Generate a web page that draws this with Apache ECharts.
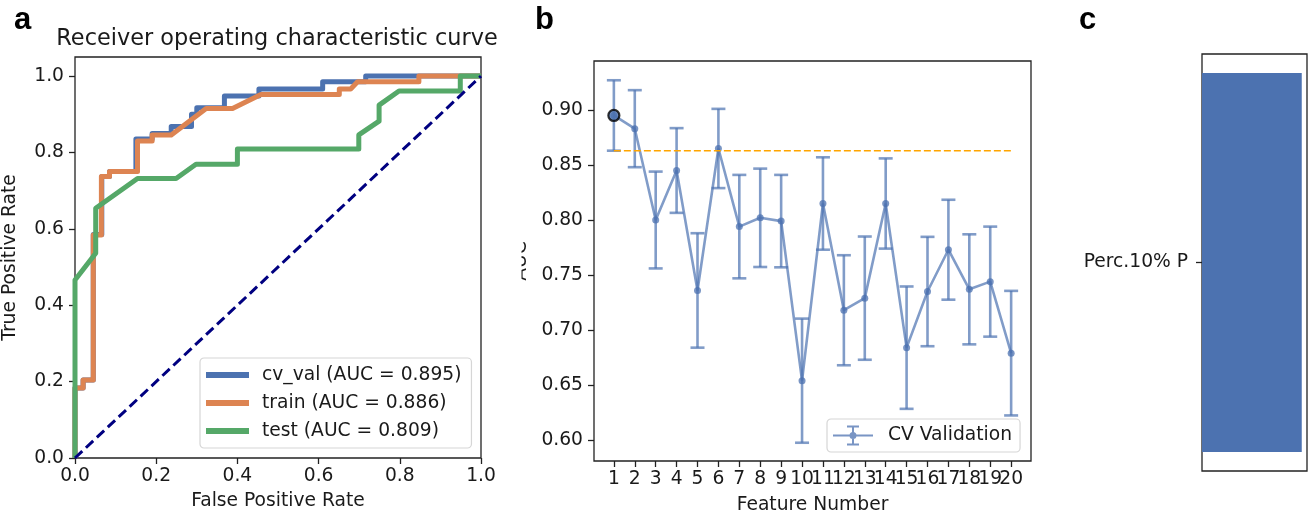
<!DOCTYPE html>
<html><head><meta charset="utf-8">
<script src="https://cdn.jsdelivr.net/npm/echarts@6/dist/echarts.min.js"></script>
<style>html,body{margin:0;padding:0;background:#fff}#c{width:1309px;height:520px}</style>
</head><body><div id="c"></div>
<script>
// ---------- Panel a: ROC curves ----------
const cvFpr    = [0, 0, 0.02, 0.02, 0.045, 0.045, 0.066, 0.066, 0.085, 0.085, 0.15, 0.15, 0.19, 0.19, 0.237, 0.237, 0.287, 0.287, 0.30, 0.30, 0.368, 0.368, 0.453, 0.453, 0.61, 0.61, 0.716, 0.716, 1];
const cvTpr    = [0, 0.183, 0.183, 0.204, 0.204, 0.585, 0.585, 0.737, 0.737, 0.75, 0.75, 0.835, 0.835, 0.85, 0.85, 0.868, 0.868, 0.90, 0.90, 0.917, 0.917, 0.948, 0.948, 0.966, 0.966, 0.985, 0.985, 1.0, 1.0];
const trainFpr = [0, 0, 0.02, 0.02, 0.045, 0.045, 0.065, 0.065, 0.085, 0.085, 0.154, 0.154, 0.19, 0.19, 0.237, 0.323, 0.388, 0.458, 0.651, 0.651, 0.679, 0.696, 0.847, 0.847, 1];
const trainTpr = [0, 0.183, 0.183, 0.204, 0.204, 0.584, 0.584, 0.737, 0.737, 0.75, 0.75, 0.83, 0.83, 0.846, 0.846, 0.915, 0.915, 0.952, 0.952, 0.966, 0.966, 0.985, 0.985, 1.0, 1.0];
const testFpr  = [0, 0, 0.051, 0.051, 0.154, 0.249, 0.298, 0.40, 0.40, 0.699, 0.699, 0.749, 0.749, 0.798, 0.949, 0.949, 1];
const testTpr  = [0, 0.466, 0.536, 0.654, 0.732, 0.732, 0.769, 0.769, 0.809, 0.809, 0.846, 0.882, 0.924, 0.961, 0.961, 1.0, 1.0];
const rocNames = ['cv_val', 'train', 'test'];
const rocAuc   = [0.895, 0.886, 0.809];
const chanceX  = [0, 1];
const chanceY  = [0, 1];
const rocTicks = [0, 0.2, 0.4, 0.6, 0.8, 1.0];

// ---------- Panel b: AUC vs feature number ----------
const featureNums = [1, 2, 3, 4, 5, 6, 7, 8, 9, 10, 11, 12, 13, 14, 15, 16, 17, 18, 19, 20];
const aucMean = [0.895, 0.883, 0.800, 0.845, 0.736, 0.865, 0.794, 0.802, 0.799, 0.654, 0.815, 0.718, 0.729, 0.815, 0.684, 0.735, 0.773, 0.737, 0.744, 0.679];
const aucErr  = [0.032, 0.035, 0.044, 0.0385, 0.052, 0.036, 0.047, 0.0447, 0.042, 0.0564, 0.042, 0.050, 0.056, 0.041, 0.0556, 0.0497, 0.0454, 0.050, 0.050, 0.0566];
const oneSeThreshold = 0.863;
const bestFeature = 1;
const aucTicks = [0.60, 0.65, 0.70, 0.75, 0.80, 0.85, 0.90];

// ---------- Panel c: single feature bar ----------
const featNames = ['Perc.10% P'];
const featValues = [1.0];

const FONT = '"DejaVu Sans", sans-serif';
const TXT = '#1a1a1a';
const FRAME = '#222';
const FS = 18.7;
const BLUE = '#4c72b0', ORANGE = '#dd8452', GREEN = '#55a868';

const zip = (a, b) => a.map((v, i) => [v, b[i]]);
const oddNums = featureNums.filter((v, i) => i % 2 === 0);
const evenNums = featureNums.filter((v, i) => i % 2 === 1);

function valAxis(o) {
  return Object.assign({
    type: 'value',
    axisLine: { show: false },
    splitLine: { show: false },
    axisTick: { show: true, length: 6, lineStyle: { color: FRAME, width: 1.3 } },
    axisLabel: { color: TXT, fontSize: FS, fontFamily: FONT },
    nameTextStyle: { color: TXT, fontSize: FS, fontFamily: FONT },
    nameLocation: 'middle'
  }, o);
}

const chart = echarts.init(document.getElementById('c'), null, { renderer: 'canvas' });

const ebarIcon = 'path://M0,9h40v2h-40z M19,1h2v18h-2z M14,0h12v2h-12z M14,18h12v2h-12z M23.5,10a3.5,3.5 0 1,1 -7,0a3.5,3.5 0 1,1 7,0z';

const option = {
  backgroundColor: '#fff',
  animation: false,
  grid: [
    { left: 73, right: 1309 - 481, top: 57, bottom: 520 - 458, show: true, borderColor: FRAME, borderWidth: 1.3, backgroundColor: 'transparent' },
    { left: 594, right: 1309 - 1031, top: 61, bottom: 520 - 462, show: true, borderColor: FRAME, borderWidth: 1.3, backgroundColor: 'transparent' },
    { left: 1202, right: 2, top: 54, bottom: 520 - 471, show: true, borderColor: FRAME, borderWidth: 1.3, backgroundColor: 'transparent' }
  ],
  xAxis: [
    valAxis({ gridIndex: 0, position: 'bottom', min: 0, max: 1,
      axisTick: { show: true, length: 6, lineStyle: { color: FRAME, width: 1.3 }, customValues: rocTicks },
      axisLabel: { color: TXT, fontSize: FS, fontFamily: FONT, margin: 9, customValues: rocTicks, hideOverlap: false, showMinLabel: true, showMaxLabel: true, formatter: v => v.toFixed(1) },
      name: 'False Positive Rate', nameGap: 34 }),
    valAxis({ gridIndex: 1, position: 'bottom', offset: 0, min: 0.05, max: 20.95,
      axisTick: { show: true, length: 6, lineStyle: { color: FRAME, width: 1.3 }, customValues: featureNums },
      axisLabel: { color: TXT, fontSize: FS, fontFamily: FONT, margin: 9, customValues: oddNums, hideOverlap: false, showMinLabel: true, showMaxLabel: true, formatter: v => String(Math.round(v)) },
      name: 'Feature Number', nameGap: 35 }),
    valAxis({ gridIndex: 2, position: 'bottom', min: 0, max: 1.0526, axisTick: { show: false }, axisLabel: { show: false } }),
    valAxis({ gridIndex: 1, position: 'bottom', offset: 0, min: 0.05, max: 20.95,
      axisTick: { show: false },
      axisLabel: { color: TXT, fontSize: FS, fontFamily: FONT, margin: 9, customValues: evenNums, hideOverlap: false, showMinLabel: true, showMaxLabel: true, formatter: v => String(Math.round(v)) } })
  ],
  yAxis: [
    valAxis({ gridIndex: 0, min: 0, max: 1.05,
      axisTick: { show: true, length: 6, lineStyle: { color: FRAME, width: 1.3 }, customValues: rocTicks },
      axisLabel: { color: TXT, fontSize: FS, fontFamily: FONT, margin: 11, customValues: rocTicks, showMaxLabel: true, formatter: v => v.toFixed(1) },
      name: 'True Positive Rate', nameRotate: 90, nameGap: 55 }),
    valAxis({ gridIndex: 1, min: 0.581, max: 0.9445,
      axisTick: { show: true, length: 6, lineStyle: { color: FRAME, width: 1.3 }, customValues: aucTicks },
      axisLabel: { color: TXT, fontSize: FS, fontFamily: FONT, margin: 11, customValues: aucTicks, showMaxLabel: true, formatter: v => v.toFixed(2) },
      name: 'AUC', nameRotate: 90, nameGap: 63 }),
    { gridIndex: 2, type: 'category', data: featNames,
      axisLine: { show: false },
      axisTick: { show: true, length: 6, alignWithLabel: true, lineStyle: { color: FRAME, width: 1.3 } },
      axisLabel: { color: TXT, fontSize: FS, fontFamily: FONT, margin: 14 } }
  ],
  legend: [
    { data: rocNames.map((n, i) => `${n} (AUC = ${rocAuc[i].toFixed(3)})`),
      orient: 'vertical', left: 200, top: 358, padding: [7, 10, 7, 6], itemGap: 8,
      icon: 'rect', itemWidth: 43, itemHeight: 6, selectedMode: false,
      backgroundColor: '#fff', borderColor: '#d6d6d6', borderWidth: 1.2, borderRadius: 4,
      textStyle: { color: TXT, fontSize: FS, fontFamily: FONT, lineHeight: 20, padding: [0, 0, 0, 8] } },
    { data: ['CV Validation'], left: 827, top: 419, padding: [6, 8, 6, 6],
      icon: ebarIcon, itemWidth: 40, itemHeight: 20, selectedMode: false,
      itemStyle: { color: BLUE, opacity: 0.75 },
      backgroundColor: '#fff', borderColor: '#d6d6d6', borderWidth: 1.2, borderRadius: 4,
      textStyle: { color: TXT, fontSize: FS, fontFamily: FONT, lineHeight: 21, padding: [0, 0, 0, 10] } }
  ],
  graphic: { elements: [
    { type: 'text', x: 277, y: 39, style: { text: 'Receiver operating characteristic curve', font: '22.4px ' + FONT, fill: TXT, align: 'center', verticalAlign: 'middle' } },
    { type: 'text', x: 14, y: 20, style: { text: 'a', font: 'bold 31px "Liberation Sans", Arial, sans-serif', fill: '#000', align: 'left', verticalAlign: 'middle' } },
    { type: 'text', x: 535, y: 20, style: { text: 'b', font: 'bold 31px "Liberation Sans", Arial, sans-serif', fill: '#000', align: 'left', verticalAlign: 'middle' } },
    { type: 'text', x: 1079, y: 20, style: { text: 'c', font: 'bold 31px "Liberation Sans", Arial, sans-serif', fill: '#000', align: 'left', verticalAlign: 'middle' } },
    { type: 'rect', z: 100, shape: { x: 484, y: 200, width: 37.5, height: 130 }, style: { fill: '#fff' } }
  ] },
  series: [
    { name: `${rocNames[0]} (AUC = ${rocAuc[0].toFixed(3)})`, type: 'line', xAxisIndex: 0, yAxisIndex: 0,
      data: zip(cvFpr, cvTpr), showSymbol: false, color: BLUE,
      lineStyle: { color: BLUE, width: 5, join: 'round' } },
    { name: `${rocNames[1]} (AUC = ${rocAuc[1].toFixed(3)})`, type: 'line', xAxisIndex: 0, yAxisIndex: 0,
      data: zip(trainFpr, trainTpr), showSymbol: false, color: ORANGE,
      lineStyle: { color: ORANGE, width: 5, join: 'round' } },
    { name: `${rocNames[2]} (AUC = ${rocAuc[2].toFixed(3)})`, type: 'line', xAxisIndex: 0, yAxisIndex: 0,
      data: zip(testFpr, testTpr), showSymbol: false, color: GREEN,
      lineStyle: { color: GREEN, width: 5, join: 'round' } },
    { name: 'chance', type: 'line', xAxisIndex: 0, yAxisIndex: 0,
      data: zip(chanceX, chanceY), showSymbol: false,
      lineStyle: { color: '#000080', width: 3, type: [10, 5] } },

    { name: 'CV Validation err', type: 'custom', xAxisIndex: 1, yAxisIndex: 1,
      data: featureNums.map((f, i) => [f, aucMean[i], aucErr[i]]),
      encode: { x: 0, y: 1 },
      renderItem: function (params, api) {
        const x = api.value(0), m = api.value(1), e = api.value(2);
        const t = api.coord([x, m + e]), b = api.coord([x, m - e]);
        const st = { stroke: BLUE, lineWidth: 2.6, opacity: 0.7 };
        return { type: 'group', children: [
          { type: 'line', shape: { x1: t[0], y1: t[1], x2: b[0], y2: b[1] }, style: st },
          { type: 'line', shape: { x1: t[0] - 7, y1: t[1], x2: t[0] + 7, y2: t[1] }, style: st },
          { type: 'line', shape: { x1: b[0] - 7, y1: b[1], x2: b[0] + 7, y2: b[1] }, style: st }
        ] };
      },
      z: 2 },
    { name: 'CV Validation', type: 'line', xAxisIndex: 1, yAxisIndex: 1,
      data: zip(featureNums, aucMean), symbol: 'circle', symbolSize: 7, showSymbol: true,
      color: BLUE,
      lineStyle: { color: BLUE, width: 2.6, opacity: 0.7 },
      itemStyle: { color: BLUE, opacity: 0.75 }, z: 3 },
    { name: 'threshold', type: 'line', xAxisIndex: 1, yAxisIndex: 1,
      data: [[featureNums[0], oneSeThreshold], [featureNums[featureNums.length - 1], oneSeThreshold]],
      showSymbol: false, lineStyle: { color: '#ffa500', width: 1.6, type: [7, 3] }, z: 4 },
    { name: 'best', type: 'scatter', xAxisIndex: 1, yAxisIndex: 1,
      data: [[bestFeature, aucMean[bestFeature - 1]]], symbol: 'circle', symbolSize: 11,
      itemStyle: { color: BLUE, borderColor: '#000', borderWidth: 2.2 }, z: 5 },

    { name: 'feature', type: 'bar', xAxisIndex: 2, yAxisIndex: 2,
      data: featValues, barWidth: '90.9%', itemStyle: { color: BLUE } }
  ]
};
chart.setOption(option);
</script></body></html>
